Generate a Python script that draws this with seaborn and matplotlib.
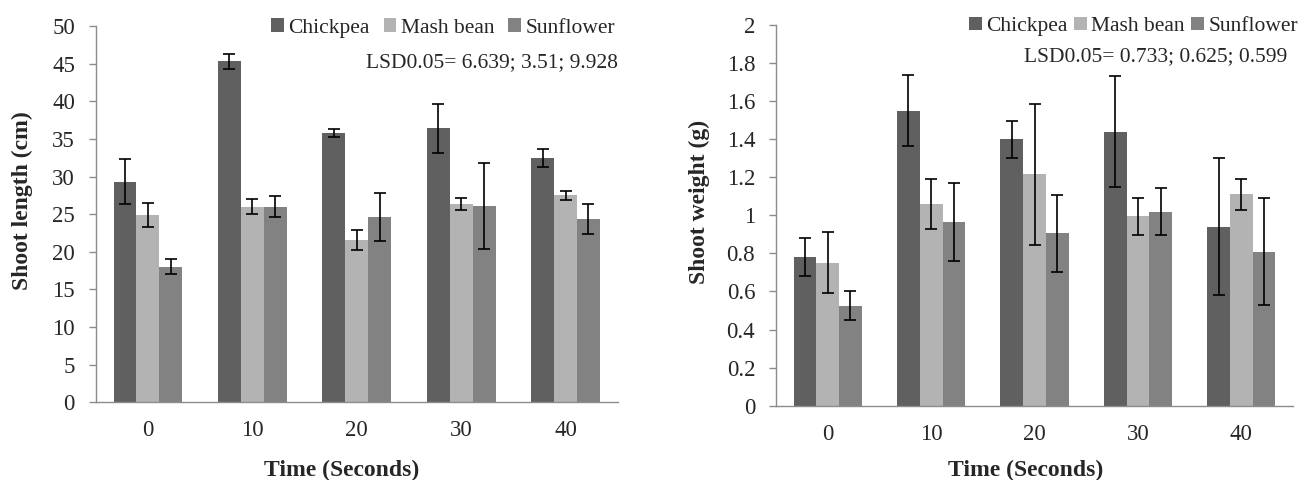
import pandas as pd
import matplotlib.pyplot as plt
import seaborn as sns
import numpy as np

# dati
times = [0, 10, 20, 30, 40]
crops = ['Chickpea', 'Mash bean', 'Sunflower']

length_chickpea = [29.3, 45.3, 35.8, 36.4, 32.4]
length_mash = [24.9, 26.0, 21.6, 26.4, 27.5]
length_sun = [18.0, 26.0, 24.6, 26.1, 24.3]
length_err_chickpea = [3.0, 1.0, 0.55, 3.25, 1.2]
length_err_mash = [1.6, 1.0, 1.3, 0.8, 0.6]
length_err_sun = [1.0, 1.4, 3.15, 5.7, 2.0]

weight_chickpea = [0.78, 1.55, 1.40, 1.44, 0.94]
weight_mash = [0.75, 1.06, 1.215, 0.995, 1.11]
weight_sun = [0.525, 0.965, 0.905, 1.02, 0.81]
weight_err_chickpea = [0.10, 0.185, 0.098, 0.29, 0.36]
weight_err_mash = [0.16, 0.13, 0.37, 0.097, 0.082]
weight_err_sun = [0.075, 0.207, 0.2, 0.122, 0.28]

lsd_length = 'LSD0.05= 6.639; 3.51; 9.928'
lsd_weight = 'LSD0.05= 0.733; 0.625; 0.599'

colors = ['#606060', '#b3b3b3', '#828282']

sns.set_theme(style='white')
plt.rcParams['font.family'] = ['Liberation Serif', 'DejaVu Serif']
plt.rcParams['axes.edgecolor'] = '#8c8c8c'
plt.rcParams['axes.linewidth'] = 1.0


def long_df(vals):
    rows = []
    for crop, v in zip(crops, vals):
        for t, y in zip(times, v):
            rows.append({'time': t, 'crop': crop, 'value': y})
    return pd.DataFrame(rows)


def draw(ax, vals, errs, ymax, ystep, ylabel, lsd, lsd_xy, leg_kw, ylab_xy, xlab_xy):
    df = long_df(vals)
    sns.barplot(data=df, x='time', y='value', hue='crop', hue_order=crops,
                palette=colors, errorbar=None, width=0.66, gap=0,
                saturation=1, linewidth=0, ax=ax)
    # barre di errore centrate sulle barre disegnate da seaborn
    for cont, e in zip(ax.containers, errs):
        xs = [b.get_x() + b.get_width() / 2 for b in cont]
        ys = [b.get_height() for b in cont]
        ax.errorbar(xs, ys, yerr=e, fmt='none', ecolor='black',
                    elinewidth=1.2, capsize=4.5, capthick=1.2)
    ticks = np.arange(0, ymax + ystep / 2, ystep)
    ax.set_ylim(0, ymax)
    ax.set_yticks(ticks)
    ax.set_yticklabels([f'{v:g}' for v in ticks])
    ax.set_xlim(-0.5, 4.5)
    sns.despine(ax=ax)
    ax.tick_params(axis='y', length=5, width=1, color='#8c8c8c', pad=10,
                   labelsize=16.5, left=True)
    ax.tick_params(axis='x', length=0, pad=13, labelsize=16.5)
    ax.set_xlabel('Time (Seconds)', fontsize=17, fontweight='bold')
    ax.set_ylabel(ylabel, fontsize=17, fontweight='bold')
    ax.yaxis.set_label_coords(*ylab_xy)
    ax.xaxis.set_label_coords(*xlab_xy)
    handles, labels = ax.get_legend_handles_labels()
    ax.legend(handles, labels, ncol=3, frameon=False, fontsize=15.5,
              loc='upper right', handlelength=0.6, handleheight=0.6,
              handletextpad=0.2, borderaxespad=0, borderpad=0, **leg_kw)
    ax.text(lsd_xy[0], lsd_xy[1], lsd, transform=ax.transAxes, ha='right',
            va='center', fontsize=15.5)


fig = plt.figure(figsize=(13.01, 4.8), dpi=100)
ax1 = fig.add_axes([0.0736, 0.1619, 0.4012, 0.7839])
ax2 = fig.add_axes([0.5965, 0.1548, 0.3974, 0.7931])

draw(ax1, [length_chickpea, length_mash, length_sun],
     [length_err_chickpea, length_err_mash, length_err_sun],
     50, 5, 'Shoot length (cm)', lsd_length, (1.0, 0.902),
     dict(bbox_to_anchor=(0.995, 1.02), columnspacing=0.65),
     (-0.12, 0.535), (0.472, -0.152))
draw(ax2, [weight_chickpea, weight_mash, weight_sun],
     [weight_err_chickpea, weight_err_mash, weight_err_sun],
     2, 0.2, 'Shoot weight (g)', lsd_weight, (0.988, 0.916),
     dict(bbox_to_anchor=(1.01, 1.022), columnspacing=0.3),
     (-0.128, 0.535), (0.482, -0.143))

plt.savefig('out.png', dpi=100)
